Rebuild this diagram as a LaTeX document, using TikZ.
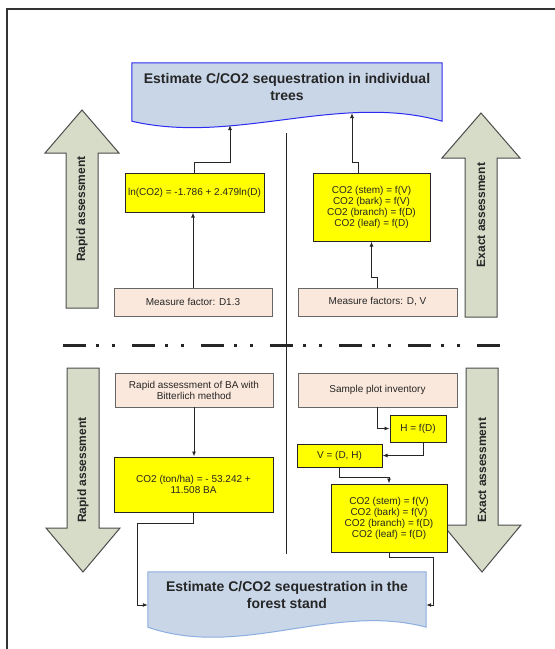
\documentclass[tikz,border=0pt]{standalone}
\usepackage{fontspec}
\setmainfont{Liberation Sans}
\usepackage{xcolor}
\usepackage{tikz}
\usetikzlibrary{arrows.meta,positioning,calc,backgrounds}
\definecolor{eqyellow}{HTML}{FFFF00}
\definecolor{inpink}{HTML}{FBE8DC}
\definecolor{docblue}{HTML}{C8D6E8}
\definecolor{arrowgreen}{HTML}{D7DCC8}
\definecolor{edgetop}{HTML}{2B2BF2}
\definecolor{edgebot}{HTML}{8CAEE0}

\begin{document}
\begin{tikzpicture}[x=1pt,y=-1pt,>={Latex[length=5pt,width=4pt]}]
  \tikzstyle{inbox}=[draw=black!60,fill=inpink,line width=0.9pt,align=center,inner sep=2pt,text=black!85,font=\fontsize{10}{11}\selectfont]
  \tikzstyle{eqbox}=[draw=black!85,fill=eqyellow,line width=1pt,align=center,inner sep=2pt,text=black!85,font=\fontsize{10}{11}\selectfont]
  \tikzstyle{docnode}=[align=center,text=black!85,font=\bfseries\fontsize{14}{17}\selectfont]
  \tikzstyle{bigarrow}=[draw=black!70,fill=arrowgreen,line width=1pt]
  \tikzstyle{arrowlabel}=[rotate=90,text=black!85,font=\bfseries\fontsize{12}{14}\selectfont]
  \tikzstyle{link}=[->,line width=0.9pt,draw=black!85]
  \useasboundingbox (0,0) rectangle (555,649);
  % frame
  \draw[line width=2.5pt,black!80] (7,649) -- (7,9) -- (555,9);
  % big arrows
  \foreach \cx/\ya/\yb/\yc/\hw/\lbl/\nm in {82/308/153/110/37/Rapid assessment/rapidUp,
      481/317/158/113/39/Exact assessment/exactUp,
      83/368/528/572/37/Rapid assessment/rapidDown,
      482/368/525/572/39/Exact assessment/exactDown}{
    \draw[bigarrow] ({\cx-16},\ya) -- ({\cx-16},\yb) -- ({\cx-\hw},\yb) -- (\cx,\yc)
      -- ({\cx+\hw},\yb) -- ({\cx+16},\yb) -- ({\cx+16},\ya) -- cycle;
    \node[arrowlabel] (\nm) at (\cx,{(\ya+\yc)/2}) {\lbl};
  }
  % separators
  \draw[line width=3pt,black!85,dash pattern=on 23pt off 10pt on 3pt off 13pt on 3pt off 17pt] (63,345) -- (502,345);
  \draw[line width=1pt,black!85] (286,133) -- (286,554);

  % individual trees
  \node[docnode,minimum width=310pt,minimum height=48pt] (treesDoc) at (287,87) {Estimate C/CO2 sequestration in individual\\trees};
  \node[eqbox,minimum width=139pt,minimum height=39pt] (lnBox) at (194.5,192.5) {ln(CO2) = -1.786 + 2.479ln(D)};
  \node[inbox,minimum width=158pt,minimum height=28pt] (measD) at (193,302) {Measure factor: D1.3};
  \node[eqbox,minimum width=117pt,minimum height=68pt] (treeParts) at (371.5,207) {CO2 (stem) = f(V)\\CO2 (bark) = f(V)\\CO2 (branch) = f(D)\\CO2 (leaf) = f(D)};
  \node[inbox,minimum width=159pt,minimum height=28pt] (measDV) at (377.5,302) {Measure factors: D, V};

  % forest stand
  \node[inbox,minimum width=158pt,minimum height=34pt] (bitter) at (194,390) {Rapid assessment of BA with\\Bitterlich method};
  \node[eqbox,minimum width=159pt,minimum height=55pt] (baBox) at (193.5,484.5) {CO2 (ton/ha) = - 53.242 +\\11.508 BA};
  \node[inbox,minimum width=159pt,minimum height=34pt] (plotInv) at (377.5,390) {Sample plot inventory};
  \node[eqbox,minimum width=56pt,minimum height=27pt] (hBox) at (418,428.5) {H = f(D)};
  \node[eqbox,minimum width=85pt,minimum height=23pt] (vBox) at (339.5,455.5) {V = (D, H)};
  \node[eqbox,minimum width=116pt,minimum height=68pt] (standParts) at (389,518) {CO2 (stem) = f(V)\\CO2 (bark) = f(V)\\CO2 (branch) = f(D)\\CO2 (leaf) = f(D)};
  \node[docnode,minimum width=278pt,minimum height=46pt] (standDoc) at (287,595) {Estimate C/CO2 sequestration in the\\forest stand};

  \begin{scope}[on background layer]
    \draw[fill=docblue,draw=edgetop,line width=1pt] (treesDoc.north west) -- (treesDoc.north east) -- ([yshift=-10pt]treesDoc.south east)
      .. controls +(-103,-29) and +(103,24) .. ([yshift=-10pt]treesDoc.south west) -- cycle;
    \draw[fill=docblue,draw=edgebot,line width=1pt] (standDoc.north west) -- (standDoc.north east) -- ([yshift=-9pt]standDoc.south east)
      .. controls +(-93,-25) and +(93,32) .. ([yshift=-9pt]standDoc.south west) -- cycle;
  \end{scope}

  % connectors
  \coordinate (treesInL) at (230,125);
  \coordinate (treesInR) at (352,113);
  \coordinate (standInL) at ([yshift=-10pt]standDoc.west);
  \coordinate (standInR) at ([yshift=-10pt]standDoc.east);
  \draw[link] (measD.north) -- (measD.north |- lnBox.south);
  \draw[link] (lnBox.north) -- ++(0,-10) -| (treesInL);
  \draw[link] (measDV.north) -- ++(0,-10) -| (treeParts.south);
  \draw[link] ([xshift=-13.5pt]treeParts.north) -- ++(0,-10) -| (treesInR);
  \draw[link] (bitter.south) -- (bitter.south |- baBox.north);
  \draw[link] (baBox.south) -- ++(0,11) -| ([xshift=-10pt]standInL) -- (standInL);
  \draw[link] (plotInv.south) |- (hBox.west);
  \draw[link] ([xshift=5pt]hBox.south) |- (vBox.east);
  \draw[link] (vBox.south) -- ++(0,10) -| (standParts.north);
  \draw[link] (standParts.south) -- ++(0,5) -| ([xshift=7pt]standInR) -- (standInR);
\end{tikzpicture}
\end{document}
